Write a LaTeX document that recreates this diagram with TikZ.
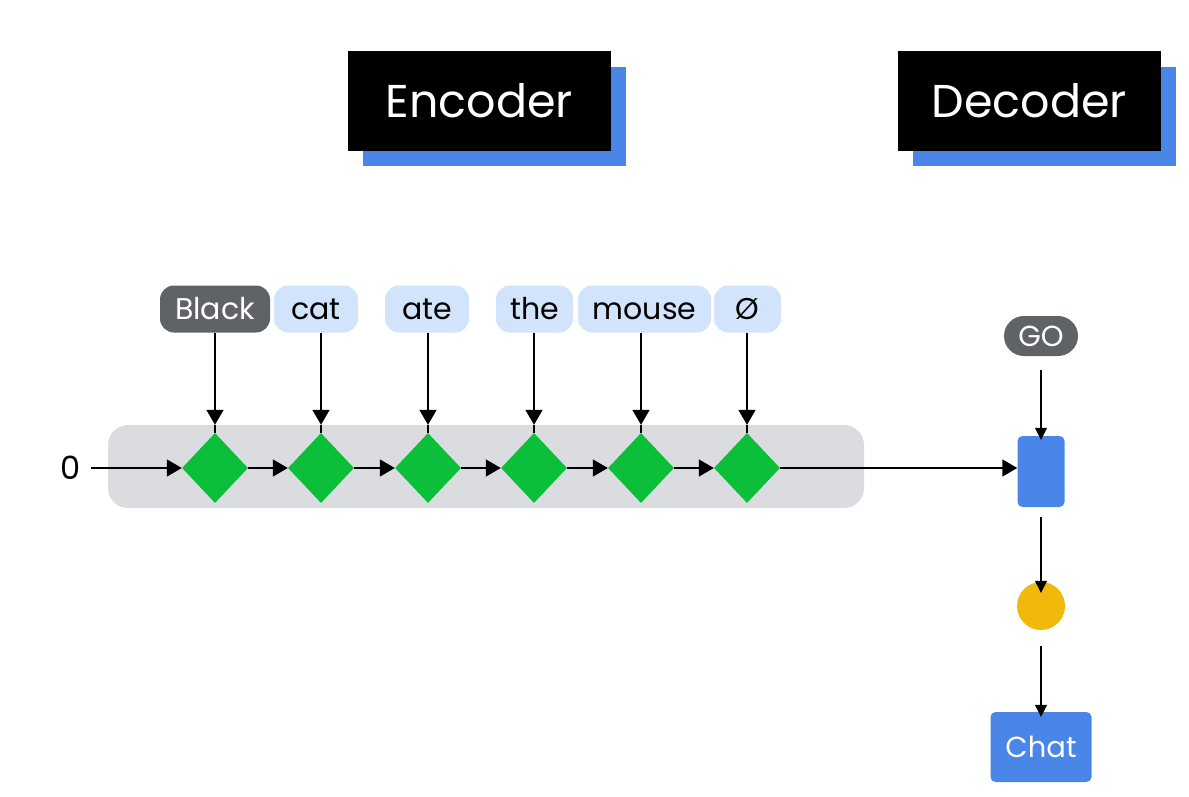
\documentclass[tikz,border=0pt]{standalone}
\usepackage{fontspec}
\setmainfont{Poppins}
\usetikzlibrary{arrows.meta,shapes.geometric}
\definecolor{pillgray}{HTML}{5F6368}
\definecolor{tokblue}{HTML}{D2E3FC}
\definecolor{bandgray}{HTML}{DADCE0}
\definecolor{dgreen}{HTML}{0BBF3B}
\definecolor{gblue}{HTML}{4A86E8}
\definecolor{gyellow}{HTML}{F0B90B}
\tikzset{
  tok/.style={rounded corners=14pt, minimum height=47pt, inner sep=0pt, text height=22pt, text depth=2pt, font=\fontsize{30}{32}\selectfont, fill=tokblue, text=black},
  cell/.style={diamond, fill=dgreen, minimum width=66pt, minimum height=70pt, inner sep=0pt, aspect=0.94},
  title/.style={fill=black, text=white, minimum width=263pt, minimum height=100pt, inner sep=0pt, font=\fontsize{46}{50}\selectfont},
  shadowbox/.style={fill=gblue, minimum width=263pt, minimum height=99pt, inner sep=0pt},
  enc/.style={line width=1.6pt, -{Triangle[length=15pt,width=17pt]}},
  dec/.style={line width=1.3pt, -{Triangle[length=12pt,width=12pt]}},
  plain/.style={line width=1.6pt}
}
\begin{document}
\begin{tikzpicture}[x=1pt,y=-1pt]
\useasboundingbox (0,0) rectangle (1189,796);
% titles
\node[shadowbox] (encs) at (494.5,116.5) {};
\node[title] (enc) at (479.5,101) {Encoder};
\node[shadowbox] (decs) at (1044.5,116.5) {};
\node[title] (dec) at (1029.5,101) {Decoder};
% band
\node[fill=bandgray, rounded corners=20pt, minimum width=756pt, minimum height=83pt, inner sep=0pt] (band) at (486,466.5) {};
% diamonds
\node[cell] (d1) at (215,468) {};
\node[cell] (d2) at (321,468) {};
\node[cell] (d3) at (428,468) {};
\node[cell] (d4) at (534,468) {};
\node[cell] (d5) at (641,468) {};
\node[cell] (d6) at (747,468) {};
% tokens
\node[tok, fill=pillgray, text=white, minimum width=110pt] (t1) at (215,309) {Black};
\node[tok, minimum width=84pt] (t2) at (316,309) {cat};
\node[tok, minimum width=84pt] (t3) at (427,309) {ate};
\node[tok, minimum width=77pt] (t4) at (534.5,309) {the};
\node[tok, minimum width=133pt] (t5) at (644.5,309) {mouse};
\node[tok, minimum width=67pt] (t6) at (747.5,309) {Ø};
% token arrows
\foreach \i in {1,...,6}{
  \draw[enc] (d\i |- t\i.south) -- (d\i |- band.north);
  \draw[plain] (d\i |- band.north) -- (d\i.north);
}
% zero input
\node[font=\fontsize{32}{34}\selectfont, inner sep=0pt] (zero) at (71,468) {0};
\draw[enc] (zero.east) ++(10pt,0) coordinate (z0) (z0) -- (d1.west);
\draw[enc] (d1.east) -- (d2.west);
\draw[enc] (d2.east) -- (d3.west);
\draw[enc] (d3.east) -- (d4.west);
\draw[enc] (d4.east) -- (d5.west);
\draw[enc] (d5.east) -- (d6.west);
% decoder
\node[fill=pillgray, text=white, rounded corners=20pt, minimum width=74pt, minimum height=40pt, inner sep=0pt, font=\fontsize{29}{31}\selectfont] (go) at (1041,336) {GO};
\node[fill=gblue, rounded corners=5pt, minimum width=47pt, minimum height=71pt, inner sep=0pt] (cellr) at (1041,471.5) {};
\node[circle, fill=gyellow, minimum size=48pt, inner sep=0pt] (out) at (1041,606) {};
\node[fill=gblue, text=white, rounded corners=5pt, minimum width=101pt, minimum height=70pt, inner sep=0pt, font=\fontsize{29}{31}\selectfont] (chat) at (1041,747) {Chat};
\draw[enc] (d6.east) -- (d6.east -| cellr.west);
\draw[dec] ([yshift=-14pt]go.south) -- ([yshift=-4pt]cellr.north);
\draw[dec] ([yshift=-10pt]cellr.south) -- ([yshift=-11pt]out.north);
\draw[dec] ([yshift=-16pt]out.south) -- ([yshift=-5pt]chat.north);
\end{tikzpicture}
\end{document}
